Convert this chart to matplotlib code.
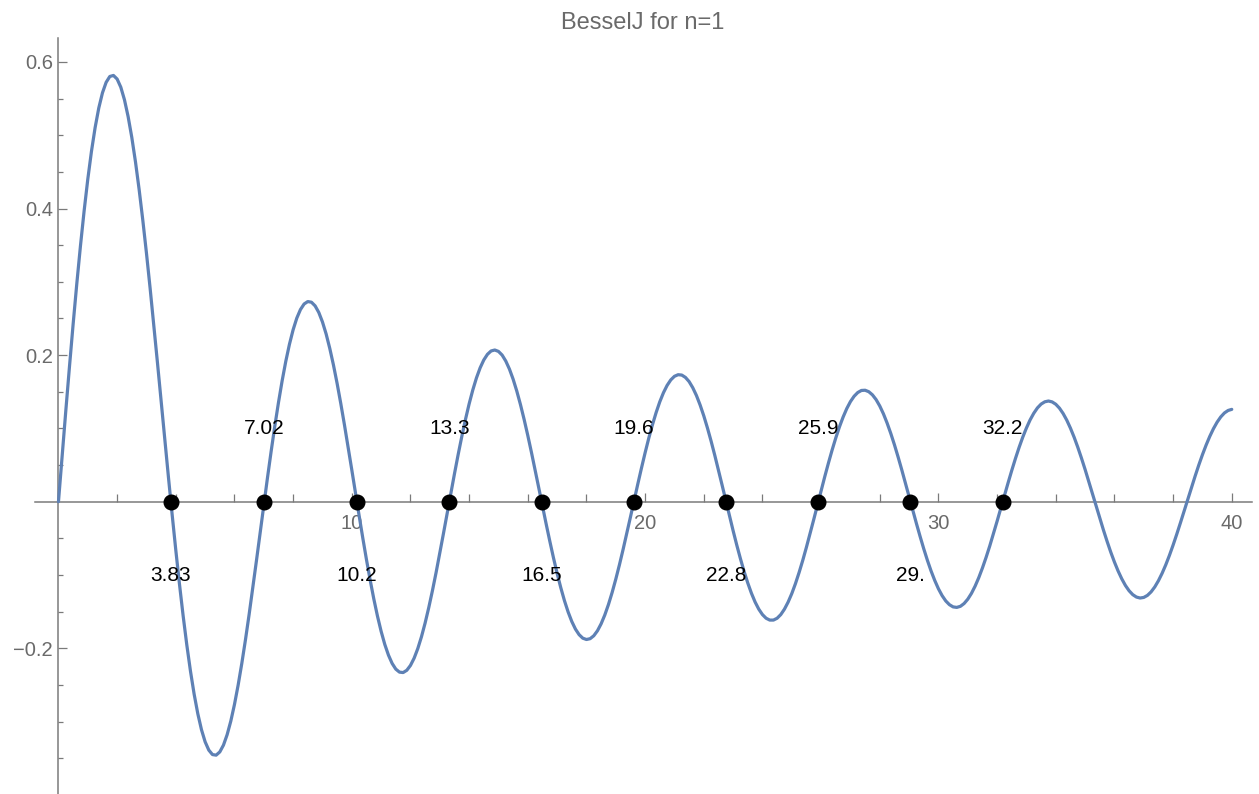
import numpy as np
import matplotlib
matplotlib.use('Agg')
import matplotlib.pyplot as plt
from matplotlib.ticker import FixedLocator

# J1(x) read at x = 0, 0.25, ..., 40
x_quarter = np.linspace(0, 40, 161)
j1_quarter = [
    0.0000, 0.1240, 0.2423, 0.3492, 0.4401, 0.5106, 0.5579, 0.5802, 0.5767, 0.5484, 0.4971,
    0.4260, 0.3391, 0.2411, 0.1374, 0.0332, -0.0660, -0.1556, -0.2311, -0.2892, -0.3276,
    -0.3450, -0.3414, -0.3179, -0.2767, -0.2207, -0.1538, -0.0803, -0.0047, 0.0686, 0.1352,
    0.1916, 0.2346, 0.2622, 0.2731, 0.2672, 0.2453, 0.2091, 0.1613, 0.1048, 0.0435, -0.0190,
    -0.0789, -0.1325, -0.1768, -0.2093, -0.2284, -0.2331, -0.2234, -0.2004, -0.1655, -0.1212,
    -0.0703, -0.0161, 0.0380, 0.0889, 0.1334, 0.1689, 0.1934, 0.2057, 0.2051, 0.1919, 0.1672,
    0.1326, 0.0904, 0.0433, -0.0058, -0.0537, -0.0977, -0.1350, -0.1634, -0.1814, -0.1880,
    -0.1829, -0.1666, -0.1403, -0.1057, -0.0650, -0.0209, 0.0240, 0.0668, 0.1050, 0.1363, 0.1587,
    0.1711, 0.1728, 0.1639, 0.1449, 0.1172, 0.0826, 0.0432, 0.0017, -0.0395, -0.0778, -0.1109,
    -0.1369, -0.1540, -0.1615, -0.1590, -0.1466, -0.1254, -0.0965, -0.0620, -0.0241, 0.0150,
    0.0528, 0.0870, 0.1155, 0.1366, 0.1490, 0.1521, 0.1458, 0.1306, 0.1073, 0.0777, 0.0435,
    0.0069, -0.0298, -0.0643, -0.0946, -0.1188, -0.1354, -0.1435, -0.1427, -0.1330, -0.1152,
    -0.0904, -0.0603, -0.0266, 0.0085, 0.0427, 0.0741, 0.1006, 0.1207, 0.1332, 0.1374, 0.1330,
    0.1204, 0.1004, 0.0744, 0.0440, 0.0110, -0.0223, -0.0541, -0.0823, -0.1052, -0.1215,
    -0.1301, -0.1306, -0.1230, -0.1078, -0.0861, -0.0592, -0.0288, 0.0032, 0.0348, 0.0641,
    0.0891, 0.1085, 0.1211, 0.1260,
]

# J1(x) read at x = 0.125, 0.375, ..., 39.875
x_between = np.linspace(0.125, 39.875, 160)
j1_between = [
    0.0624, 0.1842, 0.2975, 0.3969, 0.4781, 0.5373, 0.5722, 0.5816, 0.5656, 0.5254,
    0.4638, 0.3842, 0.2911, 0.1896, 0.0850, -0.0173, -0.1123, -0.1953, -0.2625, -0.3110,
    -0.3389, -0.3458, -0.3321, -0.2994, -0.2503, -0.1884, -0.1176, -0.0425, 0.0325, 0.1030,
    0.1649, 0.2149, 0.2505, 0.2698, 0.2722, 0.2582, 0.2289, 0.1865, 0.1339, 0.0745,
    0.0121, -0.0495, -0.1066, -0.1560, -0.1947, -0.2206, -0.2325, -0.2300, -0.2135, -0.1843,
    -0.1443, -0.0964, -0.0434, 0.0112, 0.0641, 0.1121, 0.1524, 0.1826, 0.2011, 0.2070,
    0.2001, 0.1809, 0.1510, 0.1123, 0.0673, 0.0188, -0.0301, -0.0764, -0.1173, -0.1504,
    -0.1738, -0.1862, -0.1869, -0.1761, -0.1546, -0.1239, -0.0860, -0.0432, 0.0016, 0.0458,
    0.0867, 0.1216, 0.1487, 0.1662, 0.1733, 0.1696, 0.1555, 0.1320, 0.1006, 0.0633,
    0.0226, -0.0191, -0.0592, -0.0952, -0.1249, -0.1466, -0.1590, -0.1615, -0.1540, -0.1370,
    -0.1118, -0.0799, -0.0433, -0.0045, 0.0343, 0.0705, 0.1021, 0.1271, 0.1439, 0.1518,
    0.1501, 0.1393, 0.1199, 0.0932, 0.0610, 0.0254, -0.0115, -0.0474, -0.0801, -0.1075,
    -0.1281, -0.1405, -0.1442, -0.1389, -0.1251, -0.1036, -0.0759, -0.0437, -0.0091, 0.0258,
    0.0589, 0.0881, 0.1116, 0.1280, 0.1363, 0.1362, 0.1277, 0.1113, 0.0881, 0.0596,
    0.0277, -0.0057, -0.0386, -0.0688, -0.0945, -0.1143, -0.1268, -0.1314, -0.1278, -0.1163,
    -0.0977, -0.0732, -0.0443, -0.0128, 0.0192, 0.0499, 0.0772, 0.0996, 0.1157, 0.1245,
]

zeros = [3.8317, 7.0156, 10.1735, 13.3237, 16.4706, 19.6159, 22.7601, 25.9037, 29.0468, 32.1897]
zero_labels = ['3.83', '7.02', '10.2', '13.3', '16.5', '19.6', '22.8', '25.9', '29.', '32.2']
label_y = [-0.1, 0.1, -0.1, 0.1, -0.1, 0.1, -0.1, 0.1, -0.1, 0.1]

x_major = [10, 20, 30, 40]
x_minor = [2, 4, 6, 8, 12, 14, 16, 18, 22, 24, 26, 28, 32, 34, 36, 38]
y_major = [-0.2, 0.2, 0.4, 0.6]
y_major_labels = ['\u22120.2', '0.2', '0.4', '0.6']
y_minor = [-0.35, -0.3, -0.25, -0.15, -0.1, -0.05, 0.05, 0.1, 0.15,
           0.25, 0.3, 0.35, 0.45, 0.5, 0.55]

# merge both sample sets in x order
x_all = np.concatenate([x_quarter, x_between])
y_all = np.concatenate([j1_quarter, j1_between])
order = np.argsort(x_all)
x_all = x_all[order]
y_all = y_all[order]

plt.rcParams['font.family'] = ['Liberation Sans', 'DejaVu Sans']
axis_grey = '#7a7a7a'
text_grey = '#6a6a6a'

fig = plt.figure(figsize=(12.59, 7.94), dpi=100)
ax = fig.add_axes([35 / 1259, 0, (1252 - 35) / 1259, (794 - 38) / 794])

ax.plot(x_all, y_all, color='#5E81B5', lw=2.3, zorder=3,
        solid_capstyle='round', solid_joinstyle='round')
ax.plot(zeros, [0] * len(zeros), 'o', color='black', ms=10.5, zorder=4)
for z, lab, ly in zip(zeros, zero_labels, label_y):
    ax.text(z, ly, lab, ha='center', va='center', fontsize=15, color='black', zorder=5)

ax.set_xlim(-0.80, 40.69)
ax.set_ylim(-0.3988, 0.6327)

for side in ['top', 'right']:
    ax.spines[side].set_visible(False)
ax.spines['left'].set_position(('data', 0))
ax.spines['bottom'].set_position(('data', 0))
for side in ['left', 'bottom']:
    ax.spines[side].set_color(axis_grey)
    ax.spines[side].set_linewidth(1.1)

ax.xaxis.set_major_locator(FixedLocator(x_major))
ax.xaxis.set_minor_locator(FixedLocator(x_minor))
ax.set_xticklabels([str(v) for v in x_major])
ax.yaxis.set_major_locator(FixedLocator(y_major))
ax.yaxis.set_minor_locator(FixedLocator(y_minor))
ax.set_yticklabels(y_major_labels)

ax.tick_params(which='major', direction='in', length=6.5, width=0.9, color=axis_grey,
               labelsize=14.5, labelcolor=text_grey)
ax.tick_params(which='minor', direction='in', length=3.8, width=0.9, color=axis_grey)
ax.tick_params(axis='x', which='major', pad=9)
ax.tick_params(axis='y', which='major', pad=4)
ax.tick_params(axis='x', which='minor', length=5.5)

fig.text(643 / 1259, 1 - 23 / 794, 'BesselJ for n=1', ha='center', va='center',
         fontsize=17, color=text_grey)

fig.savefig('out.png', dpi=100)
